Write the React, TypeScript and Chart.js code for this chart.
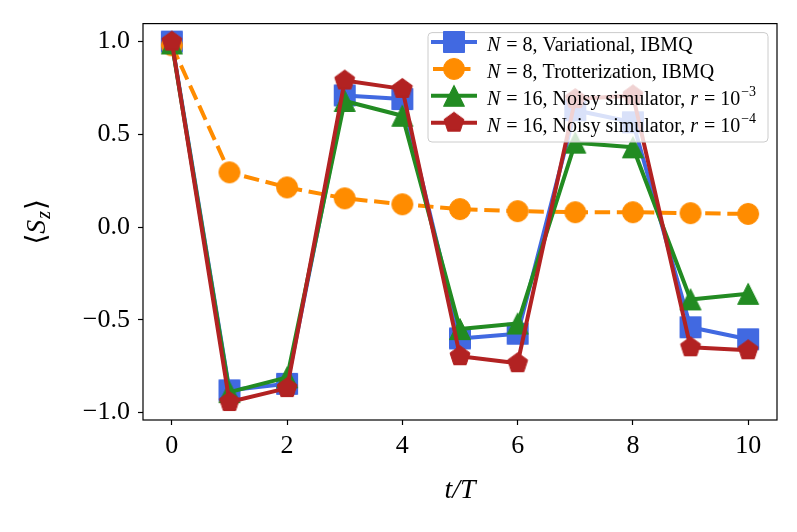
import React, { useEffect, useRef } from 'react';
import { Chart, registerables } from 'chart.js';

Chart.register(...registerables);

// ---- data ----
const timeSteps = [0, 1, 2, 3, 4, 5, 6, 7, 8, 9, 10];
const variationalIBMQ = [1.0, -0.88, -0.845, 0.71, 0.69, -0.6, -0.575, 0.63, 0.565, -0.54, -0.605];
const trotterIBMQ = [0.98, 0.295, 0.214, 0.155, 0.123, 0.097, 0.086, 0.08, 0.08, 0.075, 0.071];
const noisySimR3 = [0.99, -0.89, -0.81, 0.68, 0.6, -0.55, -0.52, 0.455, 0.43, -0.39, -0.36];
const noisySimR4 = [1.0, -0.943, -0.868, 0.79, 0.745, -0.696, -0.734, 0.69, 0.71, -0.648, -0.664];
const seriesLabels = [
  'N = 8, Variational, IBMQ',
  'N = 8, Trotterization, IBMQ',
  'N = 16, Noisy simulator, r = 10⁻³',
  'N = 16, Noisy simulator, r = 10⁻⁴',
];
const seriesColors = ['#4169E1', '#FF8C00', '#228B22', '#B22222'];
const seriesMarkers = ['square', 'circle', 'triangle', 'pentagon'];
const xTickValues = [0, 2, 4, 6, 8, 10];
const yTickValues = [-1.0, -0.5, 0.0, 0.5, 1.0];
const xAxisTitle = 't/T';
const yAxisTitleParts = ['⟨', 'S', 'z', '⟩'];

const SERIF = "'Liberation Serif', 'DejaVu Serif', serif";
const MARKER = 21;

function makeMarker(shape: string, color: string): HTMLCanvasElement {
  const size = 28;
  const c = document.createElement('canvas');
  c.width = size;
  c.height = size;
  const g = c.getContext('2d')!;
  const cx = size / 2;
  const cy = size / 2;
  const h = MARKER / 2;
  g.fillStyle = color;
  g.strokeStyle = color;
  g.lineWidth = 1;
  g.beginPath();
  if (shape === 'square') {
    g.rect(cx - h, cy - h, 2 * h, 2 * h);
  } else if (shape === 'circle') {
    g.arc(cx, cy, h, 0, Math.PI * 2);
  } else if (shape === 'triangle') {
    g.moveTo(cx, cy - h);
    g.lineTo(cx - h, cy + h);
    g.lineTo(cx + h, cy + h);
    g.closePath();
  } else {
    for (let i = 0; i < 5; i++) {
      const a = -Math.PI / 2 + (i * 2 * Math.PI) / 5;
      const px = cx + h * Math.cos(a);
      const py = cy + h * Math.sin(a);
      if (i === 0) g.moveTo(px, py);
      else g.lineTo(px, py);
    }
    g.closePath();
  }
  g.fill();
  g.stroke();
  return c;
}

const SUPS = '⁰¹²³⁴⁵⁶⁷⁸⁹';

function drawRich(ctx: CanvasRenderingContext2D, text: string, x: number, y: number, size: number) {
  const parts = text.split(/(\bN\b|\br\b|⁻[⁰¹²³⁴⁵⁶⁷⁸⁹]+)/).filter((p) => p.length > 0);
  let cx = x;
  ctx.textAlign = 'left';
  ctx.textBaseline = 'alphabetic';
  for (const p of parts) {
    if (p === 'N' || p === 'r') {
      ctx.font = `italic ${size}px ${SERIF}`;
      ctx.fillText(p, cx, y);
      cx += ctx.measureText(p).width + 1;
    } else if (p.startsWith('⁻')) {
      const sup = '−' + Array.from(p.slice(1)).map((ch) => String(SUPS.indexOf(ch))).join('');
      ctx.font = `${Math.round(size * 0.72)}px ${SERIF}`;
      ctx.fillText(sup, cx + 1, y - size * 0.42);
      cx += ctx.measureText(sup).width + 1;
    } else {
      ctx.font = `${size}px ${SERIF}`;
      ctx.fillText(p, cx, y);
      cx += ctx.measureText(p).width;
    }
  }
}

export default function App() {
  const ref = useRef<HTMLCanvasElement | null>(null);

  useEffect(() => {
    const canvas = ref.current;
    if (!canvas) return;
    const markers = seriesColors.map((c, i) => makeMarker(seriesMarkers[i], c));
    const series = [variationalIBMQ, trotterIBMQ, noisySimR3, noisySimR4];

    const decor = {
      id: 'decor',
      afterDraw(chart: any) {
        const { ctx, chartArea: ca } = chart;
        ctx.save();
        // spines
        ctx.strokeStyle = '#000';
        ctx.lineWidth = 1.2;
        ctx.strokeRect(ca.left, ca.top, ca.right - ca.left, ca.bottom - ca.top);

        // y axis title: <S_z>
        ctx.save();
        ctx.translate(35, (ca.top + ca.bottom) / 2);
        ctx.rotate(-Math.PI / 2);
        ctx.fillStyle = '#000';
        ctx.textBaseline = 'alphabetic';
        ctx.textAlign = 'left';
        const fs = 28;
        const fonts = [
          `${fs}px ${SERIF}`,
          `italic ${fs}px ${SERIF}`,
          `italic ${Math.round(fs * 0.7)}px ${SERIF}`,
          `${fs}px ${SERIF}`,
        ];
        const widths = yAxisTitleParts.map((p, i) => {
          ctx.font = fonts[i];
          return ctx.measureText(p).width;
        });
        const total = widths.reduce((a, b) => a + b, 0) + 2;
        let tx = -total / 2;
        yAxisTitleParts.forEach((p, i) => {
          ctx.font = fonts[i];
          const dy = i === 2 ? 5 : 0;
          ctx.fillText(p, tx, 10 + dy);
          tx += widths[i] + (i === 1 ? 1 : i === 2 ? 1 : 0);
        });
        ctx.restore();

        // legend
        const lx0 = 428;
        const lx1 = ca.right - 9;
        const ly0 = ca.top + 9;
        const ly1 = 142;
        ctx.beginPath();
        const r = 4;
        ctx.moveTo(lx0 + r, ly0);
        ctx.lineTo(lx1 - r, ly0);
        ctx.arcTo(lx1, ly0, lx1, ly0 + r, r);
        ctx.lineTo(lx1, ly1 - r);
        ctx.arcTo(lx1, ly1, lx1 - r, ly1, r);
        ctx.lineTo(lx0 + r, ly1);
        ctx.arcTo(lx0, ly1, lx0, ly1 - r, r);
        ctx.lineTo(lx0, ly0 + r);
        ctx.arcTo(lx0, ly0, lx0 + r, ly0, r);
        ctx.closePath();
        ctx.fillStyle = 'rgba(255,255,255,0.8)';
        ctx.fill();
        ctx.strokeStyle = '#cccccc';
        ctx.lineWidth = 1;
        ctx.stroke();

        seriesLabels.forEach((label, i) => {
          const rowY = 42 + i * 26.9;
          ctx.save();
          ctx.strokeStyle = seriesColors[i];
          ctx.lineWidth = 4;
          ctx.lineCap = i === 1 ? 'butt' : 'square';
          if (i === 1) ctx.setLineDash([15.4, 6.7]);
          ctx.beginPath();
          ctx.moveTo(433, rowY);
          ctx.lineTo(475, rowY);
          ctx.stroke();
          ctx.restore();
          const m = markers[i];
          ctx.drawImage(m, 454 - m.width / 2, rowY - m.height / 2);
          ctx.fillStyle = '#000';
          drawRich(ctx, label, 487, rowY + 9, 20);
        });
        ctx.restore();
      },
    };

    const chart = new Chart(canvas, {
      type: 'line',
      data: {
        datasets: series.map((s, i) => ({
          label: seriesLabels[i],
          data: timeSteps.map((t, j) => ({ x: t, y: s[j] })),
          borderColor: seriesColors[i],
          backgroundColor: seriesColors[i],
          borderWidth: 4,
          borderDash: i === 1 ? [15.4, 6.7] : [],
          borderJoinStyle: 'round',
          borderCapStyle: i === 1 ? 'butt' : 'round',
          pointStyle: markers[i] as any,
          pointRadius: 10,
          pointHoverRadius: 10,
          tension: 0,
          order: 3 - i,
        })),
      },
      options: {
        animation: false,
        responsive: false,
        devicePixelRatio: 1,
        events: [],
        layout: { padding: { left: 0, top: 20, right: 20, bottom: 0 } },
        plugins: { legend: { display: false }, tooltip: { enabled: false } },
        scales: {
          x: {
            type: 'linear',
            min: -0.5,
            max: 10.5,
            afterFit: (s: any) => {
              s.height = 112;
            },
            afterBuildTicks: (s: any) => {
              s.ticks = xTickValues.map((v) => ({ value: v }));
            },
            grid: {
              drawOnChartArea: false,
              drawTicks: true,
              tickLength: 5,
              tickWidth: 1.2,
              tickColor: '#000',
              color: '#000',
            },
            border: { display: false },
            ticks: {
              color: '#000',
              font: { family: SERIF, size: 26 },
              padding: 6,
              maxRotation: 0,
              autoSkip: false,
              callback: (v: any) => String(v),
            },
            title: {
              display: true,
              text: xAxisTitle,
              color: '#000',
              font: { family: SERIF, size: 28, style: 'italic' },
              padding: { top: 0, bottom: 25 },
            },
          },
          y: {
            type: 'linear',
            min: -1.04,
            max: 1.097,
            afterFit: (s: any) => {
              s.width = 143;
            },
            afterBuildTicks: (s: any) => {
              s.ticks = yTickValues.map((v) => ({ value: v }));
            },
            grid: {
              drawOnChartArea: false,
              drawTicks: true,
              tickLength: 5,
              tickWidth: 1.2,
              tickColor: '#000',
              color: '#000',
            },
            border: { display: false },
            ticks: {
              color: '#000',
              font: { family: SERIF, size: 26 },
              padding: 8,
              autoSkip: false,
              callback: (v: any) => Number(v).toFixed(1).replace('-', '−'),
            },
          },
        },
      },
      plugins: [decor],
    } as any);

    return () => {
      chart.destroy();
    };
  }, []);

  return (
    <div style={{ position: 'fixed', left: 0, top: 0, width: 797, height: 532, background: '#fff' }}>
      <canvas ref={ref} width={797} height={532} />
    </div>
  );
}
